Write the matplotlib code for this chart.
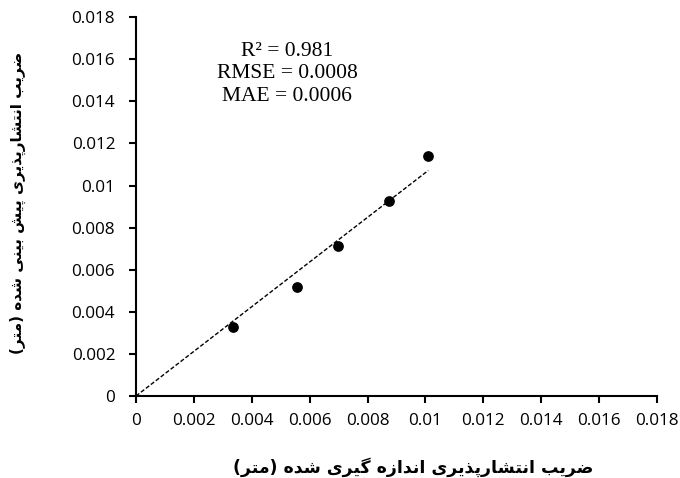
import matplotlib.pyplot as plt
import numpy as np

# measured vs predicted dispersion coefficient (m)
measured = [0.00335, 0.00555, 0.00698, 0.00874, 0.0101]
predicted = [0.0033, 0.00518, 0.00711, 0.00926, 0.01141]
stats_lines = ["R² = 0.981", "RMSE = 0.0008", "MAE = 0.0006"]
x_label = "ضریب انتشارپذیری اندازه گیری شده (متر)"
y_label = "ضریب انتشارپذیری پیش بینی شده (متر)"
ticks = np.arange(0, 0.0181, 0.002)
tick_labels = ["0", "0.002", "0.004", "0.006", "0.008", "0.01",
               "0.012", "0.014", "0.016", "0.018"]

# minimal arabic/persian shaping (iso, fin, ini, med)
forms = {
    "ا": ("\uFE8D", "\uFE8E", None, None),
    "ب": ("\uFE8F", "\uFE90", "\uFE91", "\uFE92"),
    "ت": ("\uFE95", "\uFE96", "\uFE97", "\uFE98"),
    "د": ("\uFEA9", "\uFEAA", None, None),
    "ذ": ("\uFEAB", "\uFEAC", None, None),
    "ر": ("\uFEAD", "\uFEAE", None, None),
    "ز": ("\uFEAF", "\uFEB0", None, None),
    "ش": ("\uFEB5", "\uFEB6", "\uFEB7", "\uFEB8"),
    "ض": ("\uFEBD", "\uFEBE", "\uFEBF", "\uFEC0"),
    "م": ("\uFEE1", "\uFEE2", "\uFEE3", "\uFEE4"),
    "ن": ("\uFEE5", "\uFEE6", "\uFEE7", "\uFEE8"),
    "ه": ("\uFEE9", "\uFEEA", "\uFEEB", "\uFEEC"),
    "ی": ("\uFBFC", "\uFBFD", "\uFBFE", "\uFBFF"),
    "پ": ("\uFB56", "\uFB57", "\uFB58", "\uFB59"),
    "گ": ("\uFB92", "\uFB93", "\uFB94", "\uFB95"),
}


def shape(text):
    out = []
    for i, c in enumerate(text):
        if c not in forms:
            out.append(c)
            continue
        prev = text[i - 1] if i > 0 else None
        nxt = text[i + 1] if i + 1 < len(text) else None
        jp = prev in forms and forms[prev][2] is not None
        jn = nxt in forms and forms[c][2] is not None
        iso, fin, ini, med = forms[c]
        if jp and jn:
            out.append(med)
        elif jp:
            out.append(fin)
        elif jn:
            out.append(ini)
        else:
            out.append(iso)
    vis = "".join(out)[::-1]
    return vis.translate(str.maketrans("()", ")("))


plt.rcParams['font.family'] = ['Open Sans', 'DejaVu Sans']

fig = plt.figure(figsize=(6.8, 4.78), dpi=100)
ax = fig.add_axes([0.2, 0.1715, 0.766, 0.7925])

ax.scatter(measured, predicted, s=45, color='black', zorder=3)

# trendline through origin
mx = np.array(measured)
my = np.array(predicted)
slope = np.sum(mx * my) / np.sum(mx * mx)
xl = np.array([0, mx.max()])
ax.plot(xl, slope * xl, color='black', linewidth=1, dashes=(3, 1.5))

ax.set_xlim(0, 0.018)
ax.set_ylim(0, 0.018)
ax.set_xticks(ticks)
ax.set_xticklabels(tick_labels)
ax.set_yticks(ticks)
ax.set_yticklabels(tick_labels)
ax.tick_params(labelsize=12.3, width=1.5, length=5)
ax.tick_params(axis='x', pad=7)
ax.tick_params(axis='y', pad=10)
for s in ['top', 'right']:
    ax.spines[s].set_visible(False)
for s in ['left', 'bottom']:
    ax.spines[s].set_linewidth(1.5)

ax.text(0.29, 0.935, "\n".join(stats_lines), transform=ax.transAxes,
        ha='center', va='top', fontsize=15.5, family='Liberation Serif',
        linespacing=1.24)

fig.text(0.608, 0.023, shape(x_label), ha='center', va='center',
         fontsize=12.5, fontweight='bold', family='DejaVu Sans')
fig.text(0.027, 0.575, shape(y_label), ha='center', va='center',
         rotation=90, fontsize=11, fontweight='bold', family='DejaVu Sans')

fig.savefig('out.png', dpi=100)
